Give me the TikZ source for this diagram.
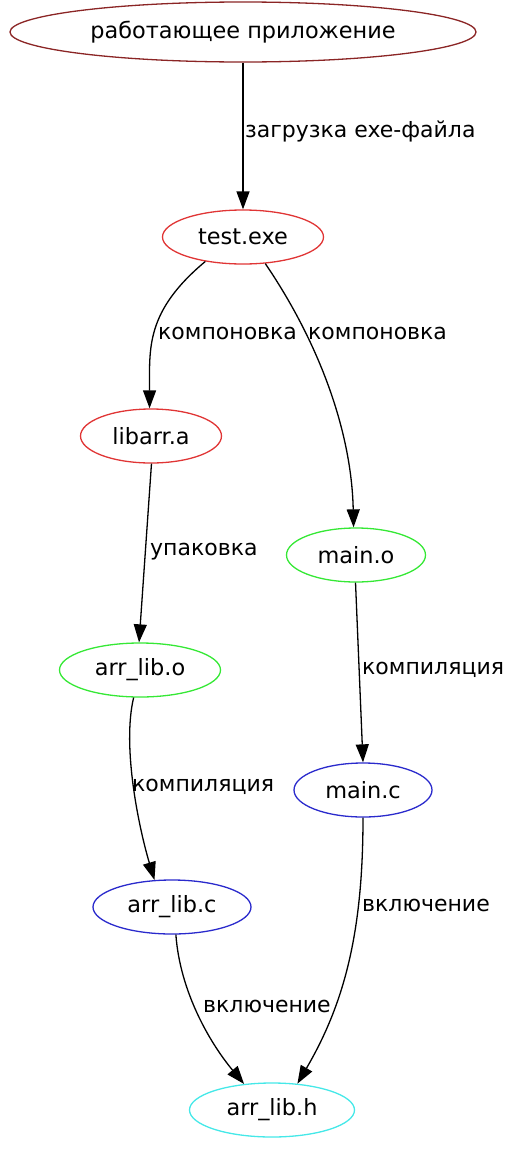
\documentclass[tikz,border=0pt]{standalone}
\usepackage{fontspec}
\setmainfont{DejaVu Sans}
\usetikzlibrary{shapes.geometric,arrows.meta}
\definecolor{cbrown}{HTML}{8B2525}
\definecolor{cred}{HTML}{E03535}
\definecolor{cgreen}{HTML}{35E835}
\definecolor{cblue}{HTML}{2A2ACC}
\definecolor{ccyan}{HTML}{45E8E8}
\tikzset{
  gnode/.style={ellipse, draw, line width=1.3pt, inner sep=0pt, font=\fontsize{22.4}{26}\selectfont},
  edge/.style={line width=1.3pt, -{Triangle[length=18pt,width=13pt]}},
  elabel/.style={anchor=west, inner sep=0pt, font=\fontsize{22}{26}\selectfont}
}
\begin{document}
\begin{tikzpicture}[x=1pt,y=-1pt]
\useasboundingbox (0,0) rectangle (520,1154);
\node[gnode, draw=cbrown, minimum width=466pt, minimum height=60pt] (app) at (243,32) {работающее приложение};
\node[gnode, draw=cred, minimum width=161pt, minimum height=54pt] (te) at (243,237) {test.exe};
\node[gnode, draw=cred, minimum width=141pt, minimum height=54pt] (la) at (151,436) {libarr.a};
\node[gnode, draw=cgreen, minimum width=139pt, minimum height=54pt] (mo) at (356,555) {main.o};
\node[gnode, draw=cgreen, minimum width=161pt, minimum height=54pt] (ao) at (140,670) {arr\_lib.o};
\node[gnode, draw=cblue, minimum width=138pt, minimum height=54pt] (mc) at (363,790) {main.c};
\node[gnode, draw=cblue, minimum width=158pt, minimum height=54pt] (ac) at (172,907) {arr\_lib.c};
\node[gnode, draw=ccyan, minimum width=165pt, minimum height=54pt] (ah) at (272,1110) {arr\_lib.h};

\draw[edge] (app.south) -- (te.north);
\draw[edge] (te.213) .. controls +(-60,50) and +(0,-60) .. (la.93);
\draw[edge] (te.-50) .. controls +(53,78) and +(-2,-97) .. (mo.95);
\draw[edge] (la.-89) -- (ao.92);
\draw[edge] (ao.-103) .. controls +(-12,50) and +(-15,-50) .. (ac.123);
\draw[edge] (mo.-91) -- (mc.90);
\draw[edge] (ac.-82) .. controls +(4,56) and +(-35,-42) .. (ah.137);
\draw[edge] (mc.-90) .. controls +(0,112) and +(48,-82) .. (ah.46);

\node[elabel] (l1) at (245,131) {загрузка exe-файла};
\node[elabel] (l2) at (158,333) {компоновка};
\node[elabel] (l3) at (308,333) {компоновка};
\node[elabel] (l4) at (150,552) {упаковка};
\node[elabel] (l5) at (362,670) {компиляция};
\node[elabel] (l6) at (132,787) {компиляция};
\node[elabel] (l7) at (362,905) {включение};
\node[elabel] (l8) at (203,1006) {включение};
\end{tikzpicture}
\end{document}
